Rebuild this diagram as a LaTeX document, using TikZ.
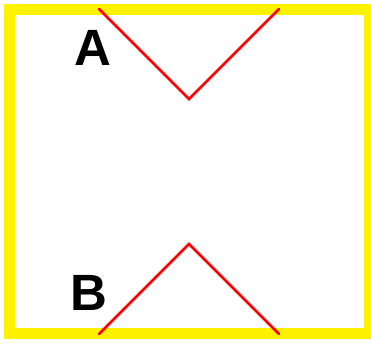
\documentclass[tikz,border=0pt]{standalone}
\usepackage{fontspec}
\setmainfont{Liberation Sans}
\begin{document}
\begin{tikzpicture}[x=1pt,y=-1pt,
  frame/.style={draw=yellow,line width=11pt},
  vline/.style={draw=red,line width=2.5pt,line cap=round,line join=miter},
  letter/.style={inner sep=0pt,text depth=0pt,font=\fontsize{51}{51}\selectfont\bfseries}]
\useasboundingbox (0,0) rectangle (371,343);
\draw[frame] (9.5,9.5) rectangle (369.5,333.5);
\coordinate (t1) at (99,9);
\coordinate (t2) at (189,99);
\coordinate (t3) at (279,9);
\coordinate (b1) at (99,334);
\coordinate (b2) at (189,244);
\coordinate (b3) at (279,334);
\draw[vline] (t1) -- (t2) -- (t3);
\draw[vline] (b1) -- (b2) -- (b3);
\node[letter] (A) at (92.5,48) {A};
\node[letter] (B) at (88.5,292.5) {B};
\end{tikzpicture}
\end{document}
